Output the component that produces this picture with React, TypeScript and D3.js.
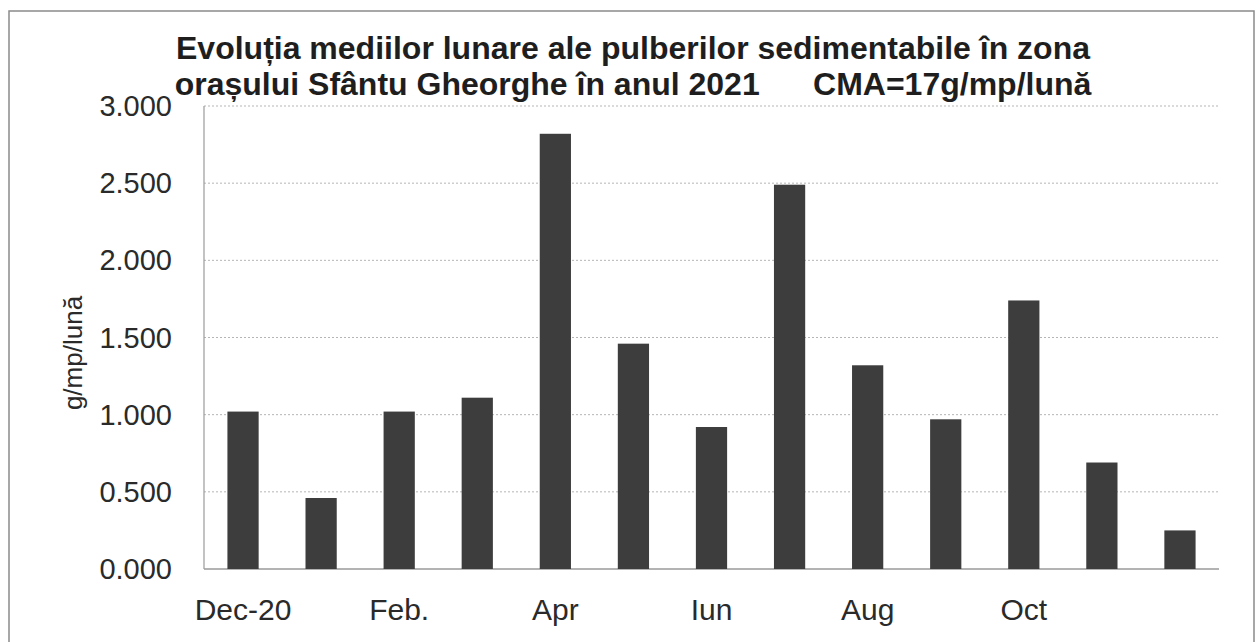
import * as d3 from "d3";

// data
const months = [
  "Dec-20", "Ian.", "Feb.", "Mar.", "Apr", "Mai", "Iun",
  "Iul", "Aug", "Sep", "Oct", "Nov", "Dec",
];
const values = [1.02, 0.46, 1.02, 1.11, 2.82, 1.46, 0.92, 2.49, 1.32, 0.97, 1.74, 0.69, 0.25];
const yTicks = [0, 0.5, 1, 1.5, 2, 2.5, 3];
const shownLabels = ["Dec-20", "Feb.", "Apr", "Iun", "Aug", "Oct"];

const titleLine1 = "Evoluția mediilor lunare ale pulberilor sedimentabile în zona";
const titleLine2 = "orașului Sfântu Gheorghe în anul 2021      CMA=17g/mp/lună";
const yTitle = "g/mp/lună";

const W = 1258;
const H = 642;
const FONT = "'Liberation Sans', Arial, sans-serif";

export default function App() {
  const m = { left: 204, right: 1219, top: 106, bottom: 569 };

  const x = d3
    .scaleBand<string>()
    .domain(months)
    .range([m.left, m.right])
    .paddingInner(0.6)
    .paddingOuter(0.3);
  const y = d3.scaleLinear().domain([0, 3]).range([m.bottom, m.top]);

  const fmt = (v: number) => d3.format(".3f")(v);

  return (
    <div style={{ position: "absolute", left: 0, top: 0 }}>
      <svg width={W} height={H} style={{ display: "block", background: "#fff" }}>
        {/* outer frame */}
        <rect x={9} y={11} width={1245} height={700} fill="none" stroke="#8a8a8a" strokeWidth={1.5} />

        {/* title */}
        <text x={633} y={59} textAnchor="middle" fontFamily={FONT} fontWeight="bold" fontSize={32} fill="#1e1e1e">
          {titleLine1}
        </text>
        <text x={633} y={95} textAnchor="middle" fontFamily={FONT} fontWeight="bold" fontSize={32} fill="#1e1e1e" style={{ whiteSpace: "pre" }}>
          {titleLine2}
        </text>

        {/* grid */}
        {yTicks.filter((t) => t > 0).map((t) => (
          <line
            key={t}
            x1={m.left}
            x2={m.right}
            y1={y(t)}
            y2={y(t)}
            stroke="#b5b5b5"
            strokeWidth={1}
            strokeDasharray="2,2"
          />
        ))}

        {/* axes */}
        <line x1={m.left} x2={m.left} y1={m.top} y2={m.bottom} stroke="#9a9a9a" strokeWidth={1.2} />
        <line x1={m.left} x2={m.right} y1={m.bottom} y2={m.bottom} stroke="#9a9a9a" strokeWidth={1.5} />

        {/* y tick labels */}
        {yTicks.map((t) => (
          <text
            key={t}
            x={172}
            y={y(t)}
            dy="0.35em"
            textAnchor="end"
            fontFamily={FONT}
            fontSize={29}
            fill="#2a2a2a"
          >
            {fmt(t)}
          </text>
        ))}

        {/* y title */}
        <text
          transform={`translate(82,353) rotate(-90)`}
          textAnchor="middle"
          fontFamily={FONT}
          fontSize={26}
          fill="#2a2a2a"
        >
          {yTitle}
        </text>

        {/* bars */}
        {values.map((v, i) => (
          <rect
            key={months[i]}
            x={x(months[i])}
            y={y(v)}
            width={x.bandwidth()}
            height={y(0) - y(v)}
            fill="#3d3d3d"
          />
        ))}

        {/* x labels */}
        {months
          .filter((c) => shownLabels.includes(c))
          .map((c) => (
            <text
              key={c}
              x={(x(c) ?? 0) + x.bandwidth() / 2}
              y={620}
              textAnchor="middle"
              fontFamily={FONT}
              fontSize={30}
              fill="#2a2a2a"
            >
              {c}
            </text>
          ))}
      </svg>
    </div>
  );
}
